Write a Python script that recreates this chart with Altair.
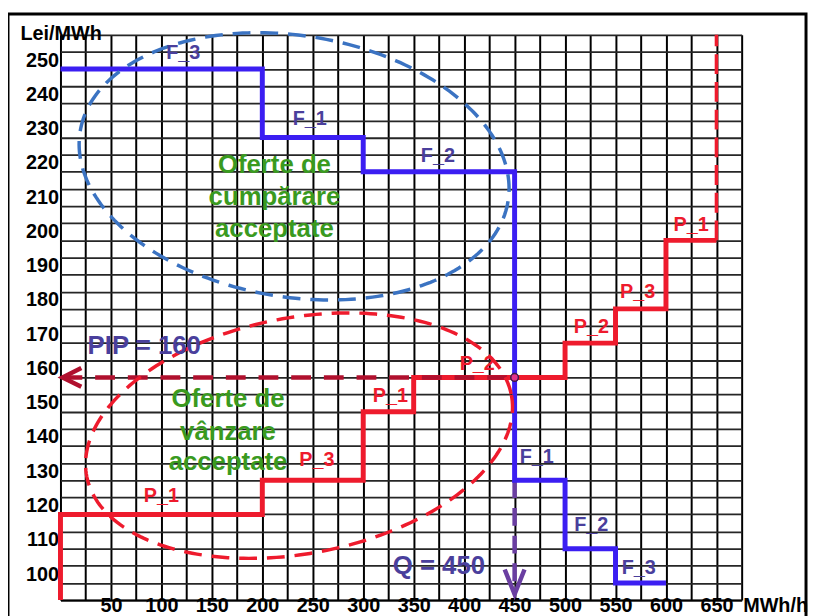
import altair as alt
import pandas as pd
import numpy as np

# ---------------- data ----------------
# Sell offers (red, P_*) : quantity MWh/h, price Lei/MWh (step-after)
sell_q = [0, 0, 200, 300, 350, 500, 550, 600, 650]
sell_p = [95, 120, 130, 150, 160, 170, 180, 200, 200]
# Buy bids (blue, F_*)
buy_q = [0, 200, 300, 450, 500, 550, 600]
buy_p = [250, 230, 220, 130, 110, 100, 100]

pip_price = 160
q_clear = 450
sell_cap_q = 650
price_top = 260
price_bottom = 95
arrow_tip_q = 2
arrow_tip_p = 96.7

# grid / tick positions
grid_x = list(range(0, 700, 25))
grid_y = list(range(95, 265, 5))

# step labels
sell_labels = ["P_1", "P_3", "P_1", "P_2", "P_2", "P_3", "P_1"]
sell_label_q = [100, 254, 327, 413, 526, 572, 625]
sell_label_p = [123.6, 134.0, 152.8, 162.3, 173.0, 183.1, 202.8]

buy_labels = ["F_3", "F_1", "F_2", "F_1", "F_2", "F_3"]
buy_label_q = [121.6, 247, 374, 472, 526, 573]
buy_label_p = [252.9, 233.8, 222.8, 134.9, 115.2, 102.5]

# green captions
buy_caption = ["Oferte de", "cumpărare", "acceptate"]
buy_caption_q = [212, 212, 212]
buy_caption_p = [219.6, 210.3, 201.0]
sell_caption = ["Oferte de", "vânzare", "acceptate"]
sell_caption_q = [166, 166, 166]
sell_caption_p = [151.4, 141.6, 132.9]

# ellipse annotations: centre, half-axis U, half-axis V (data units)
blue_ell = {"c": [231.5, 221.6], "u": [212.0, -10.2], "v": [-20.9, -37.65]}
red_ell = {"c": [236.4, 143.0], "u": [210.4, 11.85], "v": [21.9, -33.8]}

FONT = "Liberation Sans"
BLUE = "#3b1ef2"
RED = "#ee1b2d"
LABEL_BLUE = "#4a3f9c"
GREEN = "#3a9a1f"

xs = alt.Scale(domain=[0, 675], nice=False, zero=False)
ys = alt.Scale(domain=[price_bottom, price_top], nice=False, zero=False)

x_axis = alt.Axis(
    values=grid_x, grid=True, gridColor="#000", gridWidth=2, gridOpacity=1,
    ticks=False, tickSize=0, domain=True, domainColor="#000", domainWidth=2,
    labelExpr="datum.value % 50 === 0 && datum.value > 0 ? datum.label : ''",
    labelFont=FONT, labelFontWeight="bold", labelFontSize=20, labelColor="#000",
    labelPadding=11, labelBaseline="alphabetic", labelOverlap=False, labelFlush=False,
    title="MWh/h", titleX=689, titleY=11, titleAlign="left", titleBaseline="alphabetic",
    titleFont=FONT, titleFontSize=20, titleFontWeight="bold", titleColor="#000",
)
y_axis = alt.Axis(
    values=grid_y, grid=True, gridColor="#262626", gridWidth=1.8, gridOpacity=1,
    ticks=False, tickSize=0, domain=False,
    labelExpr="datum.value % 10 === 0 && datum.value >= 100 && datum.value <= 250 ? datum.label : ''",
    labelFont=FONT, labelFontWeight="bold", labelFontSize=20, labelColor="#000",
    labelPadding=2, labelOffset=-9, labelOverlap=False, labelFlush=False,
    title="Lei/MWh", titleAngle=0, titleX=-41, titleY=5, titleAlign="left",
    titleBaseline="alphabetic", titleFont=FONT, titleFontSize=20,
    titleFontWeight="bold", titleColor="#000",
)

def X(f="q"):
    return alt.X(f"{f}:Q", scale=xs, axis=x_axis)

def Y(f="p"):
    return alt.Y(f"{f}:Q", scale=ys, axis=y_axis)

sell_df = pd.DataFrame({"q": sell_q, "p": sell_p, "i": range(len(sell_q))})
buy_df = pd.DataFrame({"q": buy_q, "p": buy_p, "i": range(len(buy_q))})

t = np.linspace(0, 2 * np.pi, 241)
def ell_df(e):
    return pd.DataFrame({
        "q": e["c"][0] + e["u"][0] * np.cos(t) + e["v"][0] * np.sin(t),
        "p": e["c"][1] + e["u"][1] * np.cos(t) + e["v"][1] * np.sin(t),
        "i": range(len(t)),
    })

# frame around the whole figure
frame = alt.Chart(pd.DataFrame({"a": [0]})).mark_rect(
    filled=False, stroke="#000", strokeWidth=3
).encode(x=alt.value(-53), x2=alt.value(753), y=alt.value(-21), y2=alt.value(600))

sell_line = alt.Chart(sell_df).mark_line(
    interpolate="step-after", color=RED, strokeWidth=5
).encode(x=X(), y=Y(), order="i:Q")

buy_line = alt.Chart(buy_df).mark_line(
    interpolate="step-after", color=BLUE, strokeWidth=5
).encode(x=X(), y=Y(), order="i:Q")

cap_rule = alt.Chart(pd.DataFrame({"q": [sell_cap_q], "p": [sell_p[-1]], "p2": [price_top]})).mark_rule(
    color=RED, strokeWidth=3.5, strokeDash=[20, 8]
).encode(x=X(), y=Y(), y2="p2:Q")

pip_rule = alt.Chart(pd.DataFrame({"q": [arrow_tip_q], "q2": [q_clear], "p": [pip_price]})).mark_rule(
    color="#b0102e", strokeWidth=4.5, strokeDash=[20, 13]
).encode(x=X(), x2="q2:Q", y=Y())

pip_head = alt.Chart(pd.DataFrame({"q": [arrow_tip_q], "p": [pip_price]})).mark_point(
    shape="M 2 -1 L 0 0 L 2 1", size=361, filled=False, color="#b0102e",
    strokeWidth=4.5, opacity=1
).encode(x=X(), y=Y())

q_rule = alt.Chart(pd.DataFrame({"q": [q_clear], "p": [buy_p[3]], "p2": [arrow_tip_p]})).mark_rule(
    color="#6a3ea1", strokeWidth=4.5, strokeDash=[18, 10]
).encode(x=X(), y=Y(), y2="p2:Q")

q_head = alt.Chart(pd.DataFrame({"q": [q_clear], "p": [arrow_tip_p]})).mark_point(
    shape="M -1 -2.5 L 0 0 L 1 -2.5", size=400, filled=False, color="#6a3ea1",
    strokeWidth=4.5, opacity=1
).encode(x=X(), y=Y())

blue_ellipse = alt.Chart(ell_df(blue_ell)).mark_line(
    color="#3b73c2", strokeWidth=3.5, strokeDash=[18, 10]
).encode(x=X(), y=Y(), order="i:Q")

red_ellipse = alt.Chart(ell_df(red_ell)).mark_line(
    color=RED, strokeWidth=3.5, strokeDash=[18, 10]
).encode(x=X(), y=Y(), order="i:Q")

cross = alt.Chart(pd.DataFrame({"q": [q_clear], "p": [pip_price]})).mark_point(
    shape="circle", size=60, filled=True, fill="#e2318a", stroke="#3a1a4a",
    strokeWidth=1.5, opacity=1
).encode(x=X(), y=Y())

def texts(labels, qs, ps, color, size):
    df = pd.DataFrame({"t": labels, "q": qs, "p": ps})
    return alt.Chart(df).mark_text(
        font=FONT, fontWeight="bold", fontSize=size, color=color,
        align="center", baseline="alphabetic"
    ).encode(x=X(), y=Y(), text="t:N")

sell_text = texts(sell_labels, sell_label_q, sell_label_p, RED, 20)
buy_text = texts(buy_labels, buy_label_q, buy_label_p, LABEL_BLUE, 20)
buy_cap = texts(buy_caption, buy_caption_q, buy_caption_p, GREEN, 26)
sell_cap = texts(sell_caption, sell_caption_q, sell_caption_p, GREEN, 26)
pip_text = texts(["PIP = 160"], [83], [166.7], LABEL_BLUE, 26)
q_text = texts(["Q = 450"], [375], [102.5], LABEL_BLUE, 26)

chart = alt.layer(
    sell_line, pip_rule, pip_head, q_rule, q_head, buy_line, cap_rule,
    blue_ellipse, red_ellipse, cross,
    buy_text, sell_text, buy_cap, sell_cap, pip_text, q_text, frame,
).properties(
    width=688, height=571,
    padding={"left": 53, "top": 24, "right": 67, "bottom": 13},
    autosize=alt.AutoSizeParams(type="none"),
    background="white",
).configure_view(stroke=None)

chart.save("out.html", embed_options={"renderer": "svg", "actions": False})
